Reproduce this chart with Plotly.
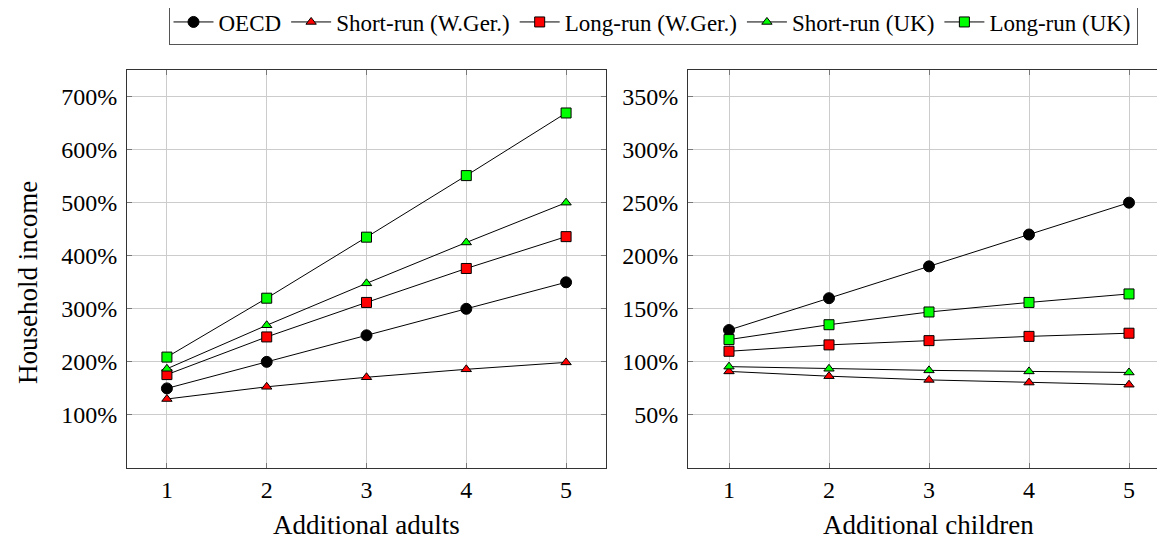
import plotly.graph_objects as go

x_vals = [1, 2, 3, 4, 5]

series_names = ["OECD", "Short-run (W.Ger.)", "Long-run (W.Ger.)", "Short-run (UK)", "Long-run (UK)"]

# Left panel: additional adults (%)
adults_oecd = [150, 200, 250, 300, 350]
adults_sr_wger = [130, 153, 171, 186, 199]
adults_lr_wger = [176, 247, 312, 376, 436]
adults_sr_uk = [187, 269, 348, 425, 500]
adults_lr_uk = [209, 320, 435, 551, 669]

# Right panel: additional children (%)
children_oecd = [130, 160, 190, 220, 250]
children_sr_wger = [91, 86.5, 83, 80.5, 78.5]
children_lr_wger = [110, 116, 120, 124, 127]
children_sr_uk = [95.5, 93.5, 92, 91, 90]
children_lr_uk = [121, 135, 147, 156, 164]

left_ticks = [100, 200, 300, 400, 500, 600, 700]
right_ticks = [50, 100, 150, 200, 250, 300, 350]
left_ticktext = [f"{v}%" for v in left_ticks]
right_ticktext = [f"{v}%" for v in right_ticks]
x_ticktext = [str(v) for v in x_vals]
x_title_left = "Additional adults"
x_title_right = "Additional children"
y_title = "Household income"

styles = [
    dict(symbol="circle", color="black", size=11),
    dict(symbol="triangle-up", color="#ff0000", size=9),
    dict(symbol="square", color="#ff0000", size=10),
    dict(symbol="triangle-up", color="#00ff00", size=9),
    dict(symbol="square", color="#00ff00", size=10),
]

left_data = [adults_oecd, adults_sr_wger, adults_lr_wger, adults_sr_uk, adults_lr_uk]
right_data = [children_oecd, children_sr_wger, children_lr_wger, children_sr_uk, children_lr_uk]

FONT = "Liberation Serif"
TICK_FS = 24
LEG_FS = 23
TITLE_FS = 27
W, H = 1157, 532
OFF = 8  # page body margin
MT, MB = 70 - OFF, 540 - 468
PLOT_H = H - MT - MB

fig = go.Figure()
for name, st, yl, yr in zip(series_names, styles, left_data, right_data):
    marker = dict(symbol=st["symbol"], color=st["color"], size=st["size"],
                  line=dict(color="black", width=1))
    fig.add_trace(go.Scatter(x=x_vals, y=yl, name=name, mode="lines+markers",
                             line=dict(color="black", width=1), marker=marker,
                             legendgroup=name, showlegend=True, xaxis="x", yaxis="y"))
    fig.add_trace(go.Scatter(x=x_vals, y=yr, name=name, mode="lines+markers",
                             line=dict(color="black", width=1), marker=marker,
                             legendgroup=name, showlegend=False, xaxis="x2", yaxis="y2"))

def axis_common():
    return dict(showgrid=True, gridcolor="#cccccc", gridwidth=1,
                showline=True, linecolor="#333333", linewidth=1, mirror="ticks",
                ticks="inside", ticklen=5, tickcolor="#777777",
                zeroline=False, tickmode="array",
                tickfont=dict(family=FONT, size=TICK_FS, color="black"))

def px(x):
    return (x - OFF) / W

def py(y):
    # page pixel y -> paper y
    return (468 - y) / PLOT_H

fig.update_layout(
    width=W, height=H,
    margin=dict(l=0, r=0, t=MT, b=MB, autoexpand=False),
    paper_bgcolor="white", plot_bgcolor="white",
    font=dict(family=FONT, size=TICK_FS, color="black"),
    xaxis=dict(domain=[px(127), px(606)], range=[0.6, 5.4], tickvals=x_vals,
               ticktext=x_ticktext, anchor="y", **axis_common()),
    yaxis=dict(domain=[0, 1], range=[0, 750], tickvals=left_ticks,
               ticktext=left_ticktext, anchor="x", ticklabelstandoff=4, **axis_common()),
    xaxis2=dict(domain=[px(688), 1.0], range=[0.59, 5.36], tickvals=x_vals,
                ticktext=x_ticktext, anchor="y2", **axis_common()),
    yaxis2=dict(domain=[0, 1], range=[0, 375], tickvals=right_ticks,
                ticktext=right_ticktext, anchor="x2", ticklabelstandoff=4, **axis_common()),
    legend=dict(orientation="h", x=px(653), xanchor="center",
                y=py(22), yanchor="middle",
                bordercolor="#555555", borderwidth=1, bgcolor="white",
                font=dict(family=FONT, size=LEG_FS, color="black"),
                itemwidth=40, tracegroupgap=0),
    annotations=[
        dict(text=y_title, x=px(28), y=py(283), xref="paper", yref="paper",
             textangle=-90, showarrow=False, xanchor="center", yanchor="middle",
             font=dict(family=FONT, size=TITLE_FS)),
        dict(text=x_title_left, x=px((127 + 606) / 2), y=py(525),
             xref="paper", yref="paper", showarrow=False,
             xanchor="center", yanchor="middle", font=dict(family=FONT, size=TITLE_FS)),
        dict(text=x_title_right, x=px((688 + 1169) / 2), y=py(525),
             xref="paper", yref="paper", showarrow=False,
             xanchor="center", yanchor="middle", font=dict(family=FONT, size=TITLE_FS)),
    ],
)

fig.write_html("out.html")
